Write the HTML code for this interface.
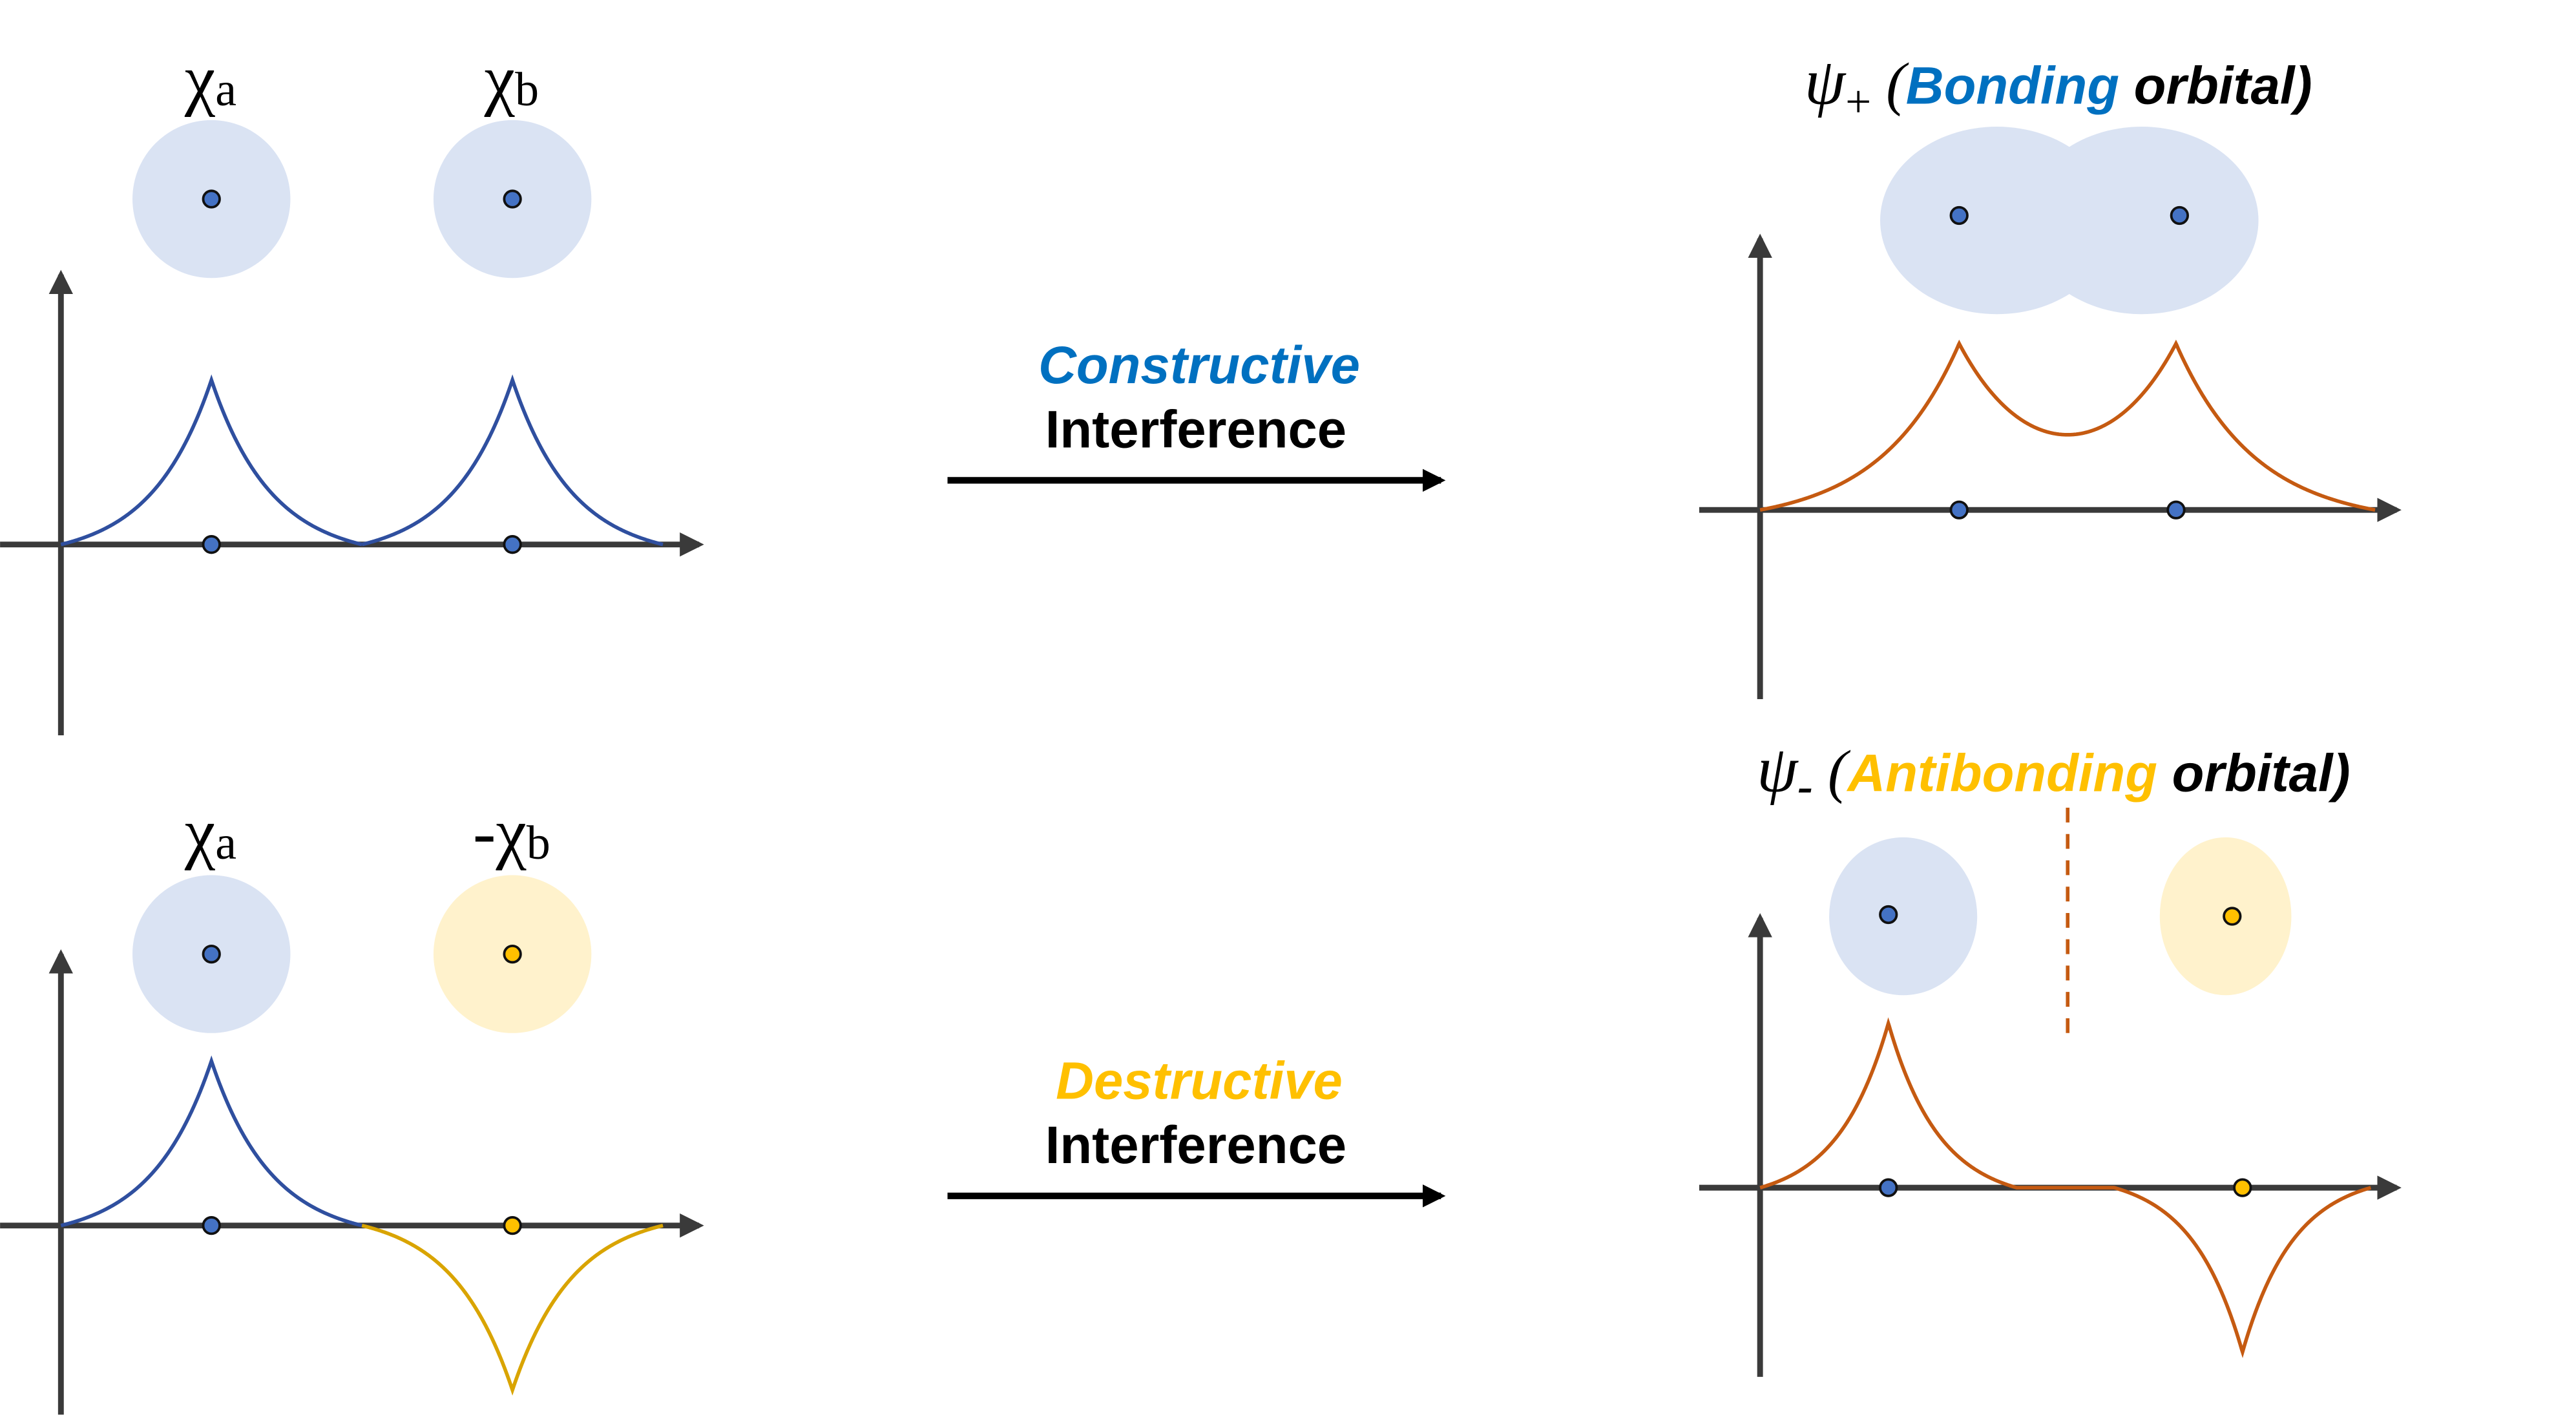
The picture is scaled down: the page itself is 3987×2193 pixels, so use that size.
<!DOCTYPE html>
<html><head><meta charset="utf-8"><style>
html,body{margin:0;padding:0;background:#fff;}
svg{display:block;}
.tm{font-family:"Liberation Serif",serif;}
.ts{font-family:"Liberation Sans",sans-serif;font-weight:bold;}
</style></head><body>
<svg id="fig" width="3987" height="2193" viewBox="0 0 1566 861.4" xmlns="http://www.w3.org/2000/svg">
<defs>
<marker id="arr" viewBox="0 0 10 10" refX="8" refY="5" markerWidth="4.2" markerHeight="4.2" orient="auto" markerUnits="strokeWidth"><path d="M0,0 L10,5 L0,10 z" fill="#3a3a3a"/></marker>
<marker id="arrk" viewBox="0 0 10 10" refX="8" refY="5" markerWidth="3.5" markerHeight="3.5" orient="auto" markerUnits="strokeWidth"><path d="M0,0 L10,5 L0,10 z" fill="#000"/></marker>
</defs>
<g id="layer"></g>
<text class="tm" x="128" y="62" font-size="42" text-anchor="middle">χ<tspan font-size="29" dy="2">a</tspan></text>
<text class="tm" x="311" y="62" font-size="42" text-anchor="middle">χ<tspan font-size="29" dy="2">b</tspan></text>
<text class="tm" x="128" y="520" font-size="42" text-anchor="middle">χ<tspan font-size="29" dy="2">a</tspan></text>
<text class="tm" x="311" y="520" font-size="42" text-anchor="middle">-χ<tspan font-size="29" dy="2">b</tspan></text>
<text class="ts" x="729" y="233" font-size="32" font-style="italic" fill="#0070c0" text-anchor="middle">Constructive</text>
<text class="ts" x="727" y="272" font-size="32" fill="#000" text-anchor="middle">Interference</text>
<text class="ts" x="729" y="668" font-size="32" font-style="italic" fill="#ffc000" text-anchor="middle">Destructive</text>
<text class="ts" x="727" y="707" font-size="32" fill="#000" text-anchor="middle">Interference</text>
<line x1="576" y1="292" x2="876" y2="292" stroke="#000" stroke-width="4" marker-end="url(#arrk)"/>
<line x1="576" y1="727" x2="876" y2="727" stroke="#000" stroke-width="4" marker-end="url(#arrk)"/>
<text x="1097" y="63" font-size="32" font-style="italic"><tspan class="tm" font-size="40">ψ</tspan><tspan class="tm" font-size="28" dy="8" font-style="normal">+</tspan><tspan class="tm" dy="-8" font-size="36"> (</tspan><tspan class="ts" fill="#0070c0">Bonding</tspan><tspan class="ts" fill="#000"> orbital)</tspan></text>
<text x="1068" y="481" font-size="32" font-style="italic"><tspan class="tm" font-size="40">ψ</tspan><tspan class="tm" font-size="28" dy="6" font-weight="bold">-</tspan><tspan class="tm" dy="-6" font-size="36"> (</tspan><tspan class="ts" fill="#ffc000">Antibonding</tspan><tspan class="ts" fill="#000"> orbital)</tspan></text>
</svg>
<script>
// Data (axis units; centers in nuclear-separation units, amplitudes relative)
const panelNames = ["chi-top", "chi-bottom", "bonding", "antibonding"];
const centersTL = [1, 3];
const ampsTL = [1, 1];
const centersBL = [1, 3];
const ampsBL = [1, -1];
const centersTR = [1, 2.09];
const ampsTR = [1, 1];
const centersBR = [1, 3.76];
const ampsBR = [1, -1];
const overlapTR = 1.1;
const decayK = 2.5;

const NS = "http://www.w3.org/2000/svg";
const layer = document.getElementById('layer');
function mk(tag, attrs, name) {
  const e = document.createElementNS(NS, tag);
  for (const k in attrs) e.setAttribute(k, attrs[k]);
  
  
  layer.appendChild(e);
  return e;
}
function f(d, D) {
  D = D || 1;
  const t = d / D;
  if (t >= 1) return 0;
  return (Math.exp(-decayK * t) - Math.exp(-decayK)) / (1 - Math.exp(-decayK));
}
function panel(p, centers, amps, colors, summed, name, D) {
  const sx = u => p.ox + u * p.unit;
  const sy = v => p.ay - v * p.h;
  mk('line', {x1: p.ox, y1: p.yb, x2: p.ox, y2: p.yt, stroke: '#3a3a3a', 'stroke-width': 3.5, 'marker-end': 'url(#arr)'}, name + '-y-axis');
  mk('line', {x1: p.xs, y1: p.ay, x2: p.xe, y2: p.ay, stroke: '#3a3a3a', 'stroke-width': 3.5, 'marker-end': 'url(#arr)'}, name + '-x-axis');
  const uMax = centers[centers.length - 1] + 1;
  if (summed) {
    let d = '';
    for (let i = 0; i <= 800; i++) {
      const u = uMax * i / 800;
      let v = 0;
      centers.forEach((c, j) => {
        const dist = u - c;
        const outer = (j === 0 && dist < 0) || (j === centers.length - 1 && dist > 0);
        v += amps[j] * f(Math.abs(dist), outer ? 1 : (D || 1));
      });
      d += (i ? 'L' : 'M') + sx(u).toFixed(2) + ',' + sy(v).toFixed(2);
    }
    mk('path', {d: d, fill: 'none', stroke: colors[0], 'stroke-width': 2.2}, name + '-curve');
  } else {
    centers.forEach((c, j) => {
      let d = '';
      for (let i = 0; i <= 400; i++) {
        const u = c - 1 + 2 * i / 400;
        const v = amps[j] * f(Math.abs(u - c));
        d += (i ? 'L' : 'M') + sx(u).toFixed(2) + ',' + sy(v).toFixed(2);
      }
      mk('path', {d: d, fill: 'none', stroke: colors[j], 'stroke-width': 2.2}, name + '-curve-' + (j + 1));
    });
  }
  centers.forEach((c, j) => {
    mk('circle', {cx: sx(c), cy: p.ay, r: 5, fill: amps[j] > 0 || summed && name === 'bonding' ? '#4472c4' : '#ffc000', stroke: '#111', 'stroke-width': 1.5}, name + '-nucleus-' + (j + 1));
  });
  return sx;
}
let sx = panel({ox: 37, ay: 331, unit: 91.5, h: 100, yt: 167, yb: 447, xs: 0, xe: 425}, centersTL, ampsTL, ['#2f4f9f', '#2f4f9f'], false, 'chi-top');
centersTL.forEach((c, j) => {
  mk('circle', {cx: sx(c), cy: 121, r: 48, fill: '#dae3f3'}, 'atomic-orbital-top-' + (j + 1));
  mk('circle', {cx: sx(c), cy: 121, r: 5, fill: '#4472c4', stroke: '#111', 'stroke-width': 1.5}, 'orbital-nucleus-top-' + (j + 1));
});
sx = panel({ox: 37, ay: 745, unit: 91.5, h: 100, yt: 580, yb: 860, xs: 0, xe: 425}, centersBL, ampsBL, ['#2f4f9f', '#d9a400'], false, 'chi-bottom');
centersBL.forEach((c, j) => {
  mk('circle', {cx: sx(c), cy: 580, r: 48, fill: ampsBL[j] > 0 ? '#dae3f3' : '#fff2cc'}, 'atomic-orbital-bottom-' + (j + 1));
  mk('circle', {cx: sx(c), cy: 580, r: 5, fill: ampsBL[j] > 0 ? '#4472c4' : '#ffc000', stroke: '#111', 'stroke-width': 1.5}, 'orbital-nucleus-bottom-' + (j + 1));
});
mk('ellipse', {cx: 1214, cy: 134, rx: 71, ry: 57, fill: '#dae3f3'}, 'bonding-cloud-left');
mk('ellipse', {cx: 1302, cy: 134, rx: 71, ry: 57, fill: '#dae3f3'}, 'bonding-cloud-right');
sx = panel({ox: 1070, ay: 310, unit: 121, h: 101, yt: 145, yb: 425, xs: 1033, xe: 1457}, centersTR, ampsTR, ['#c55a11'], true, 'bonding', overlapTR);
[1191, 1325].forEach((x, j) => {
  mk('circle', {cx: x, cy: 131, r: 5, fill: '#4472c4', stroke: '#111', 'stroke-width': 1.5}, 'bonding-cloud-nucleus-' + (j + 1));
});
mk('ellipse', {cx: 1157, cy: 557, rx: 45, ry: 48, fill: '#dae3f3'}, 'antibonding-cloud-left');
mk('ellipse', {cx: 1353, cy: 557, rx: 40, ry: 48, fill: '#fff2cc'}, 'antibonding-cloud-right');
sx = panel({ox: 1070, ay: 722, unit: 78, h: 100, yt: 558, yb: 837, xs: 1033, xe: 1457}, centersBR, ampsBR, ['#c55a11'], true, 'antibonding');
mk('circle', {cx: 1148, cy: 556, r: 5, fill: '#4472c4', stroke: '#111', 'stroke-width': 1.5}, 'antibonding-cloud-nucleus-1');
mk('circle', {cx: 1357, cy: 557, r: 5, fill: '#ffc000', stroke: '#111', 'stroke-width': 1.5}, 'antibonding-cloud-nucleus-2');
mk('line', {x1: 1257, y1: 491, x2: 1257, y2: 628, stroke: '#c55a11', 'stroke-width': 2.2, 'stroke-dasharray': '9,7'}, 'node-plane-dashed-line');
</script>
</body></html>
